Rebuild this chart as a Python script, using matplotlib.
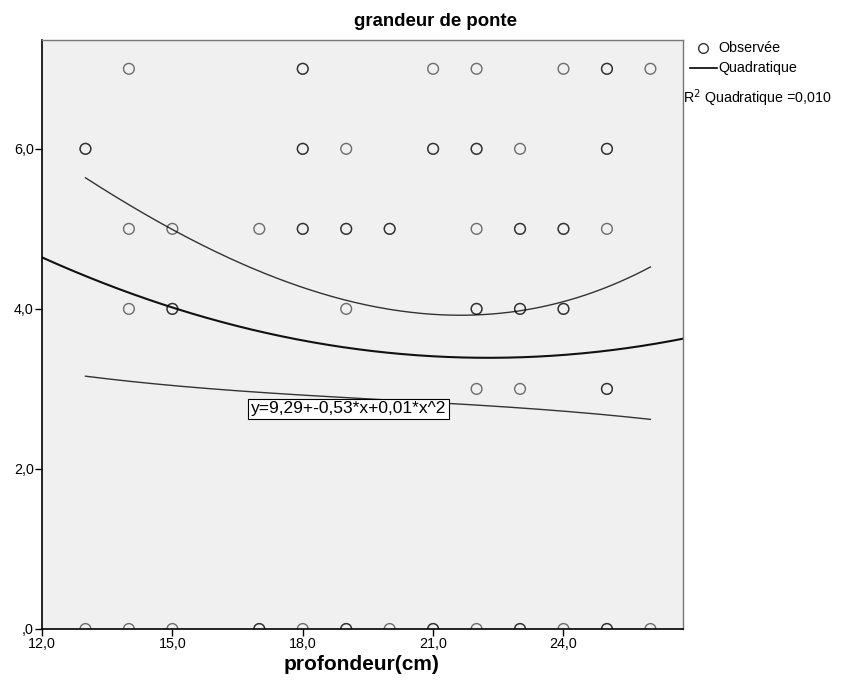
import numpy as np
import matplotlib
matplotlib.use("Agg")
import matplotlib.pyplot as plt
from matplotlib.lines import Line2D

plt.rcParams['font.family'] = ['Liberation Sans', 'DejaVu Sans']

# observed points (duplicates make darker circles)
obs_x = [14, 18, 18, 21, 22, 24, 25, 25, 26,
         13, 13, 18, 18, 19, 21, 21, 22, 22, 23, 25, 25,
         14, 15, 17, 18, 18, 19, 19, 20, 20, 22, 23, 23, 24, 24, 25,
         14, 15, 15, 19, 22, 22, 23, 23, 24, 24,
         22, 23, 25, 25,
         13, 14, 15, 17, 17, 18, 19, 19, 20, 21, 21, 22, 23, 23, 24, 25, 25, 26]
obs_y = [7, 7, 7, 7, 7, 7, 7, 7, 7,
         6, 6, 6, 6, 6, 6, 6, 6, 6, 6, 6, 6,
         5, 5, 5, 5, 5, 5, 5, 5, 5, 5, 5, 5, 5, 5, 5,
         4, 4, 4, 4, 4, 4, 4, 4, 4, 4,
         3, 3, 3, 3,
         0, 0, 0, 0, 0, 0, 0, 0, 0, 0, 0, 0, 0, 0, 0, 0, 0, 0]

# quadratic fit coefficients (constant, linear, quadratic)
fit_coef = [9.29, -0.53, 0.0119]

# confidence band values
band_x = [13, 15, 17, 19, 21, 22, 24, 26]
band_upper = [5.63, 5.00, 4.50, 4.07, 3.92, 3.93, 4.12, 4.51]
band_lower = [3.16, 3.04, 2.96, 2.89, 2.83, 2.80, 2.72, 2.62]

x_ticks = [12, 15, 18, 21, 24]
x_ticklabels = ["12,0", "15,0", "18,0", "21,0", "24,0"]
y_ticks = [0, 2, 4, 6]
y_ticklabels = [",0", "2,0", "4,0", "6,0"]

fig = plt.figure(figsize=(8.45, 6.98), dpi=100)
ax = fig.add_axes([42/845, 1-629/698, (683-42)/845, (629-40)/698])
ax.set_facecolor('#F0F0F0')
ax.set_xlim(12, 26.75)
ax.set_ylim(0, 7.36)

ax.scatter(obs_x, obs_y, s=60, facecolors='none', edgecolors='#000000',
           linewidths=1.0, alpha=0.55, zorder=3)

xx = np.linspace(12, 26.75, 300)
yy = fit_coef[0] + fit_coef[1]*xx + fit_coef[2]*xx**2
ax.plot(xx, yy, color='#111111', lw=1.5, zorder=2)

bx = np.linspace(min(band_x), max(band_x), 200)
pu = np.polyfit(band_x, band_upper, 3)
pl = np.polyfit(band_x, band_lower, 3)
ax.plot(bx, np.polyval(pu, bx), color='#333333', lw=1.0, zorder=2)
ax.plot(bx, np.polyval(pl, bx), color='#333333', lw=1.0, zorder=2)

ax.text(19.05, 2.75, "y=9,29+-0,53*x+0,01*x^2", fontsize=12.5, ha='center', va='center',
        bbox=dict(boxstyle='square,pad=0.15', fc='white', ec='black', lw=0.8), zorder=5)

ax.set_xticks(x_ticks)
ax.set_xticklabels(x_ticklabels, fontsize=10.3)
ax.set_yticks(y_ticks)
ax.set_yticklabels(y_ticklabels, fontsize=10.3)
ax.tick_params(axis='both', direction='out', length=5, width=1.0, color='black', pad=1)

for s in ['left', 'bottom']:
    ax.spines[s].set_color('black')
    ax.spines[s].set_linewidth(1.2)
for s in ['top', 'right']:
    ax.spines[s].set_color('#777777')
    ax.spines[s].set_linewidth(1.0)

fig.text(436/845, 1-22/698, "grandeur de ponte", fontsize=13.4, fontweight='bold',
         ha='center', va='center')
fig.text(362/845, 1-664/698, "profondeur(cm)", fontsize=15, fontweight='bold',
         ha='center', va='center')

# legend outside right
fig.lines.append(Line2D([703/845], [1-48/698], marker='o', markersize=7, mfc='none',
                        mec='#333333', mew=1.0, transform=fig.transFigure))
fig.text(718/845, 1-48/698, "Observée", fontsize=10.3, va='center', ha='left')
fig.lines.append(Line2D([690/845, 717/845], [1-68/698, 1-68/698], color='black', lw=1.2,
                        transform=fig.transFigure))
fig.text(718/845, 1-68/698, "Quadratique", fontsize=10.3, va='center', ha='left')
fig.text(683/845, 1-98/698, "R$^2$ Quadratique =0,010", fontsize=10.3, va='center', ha='left')

fig.savefig("out.png", dpi=100)
